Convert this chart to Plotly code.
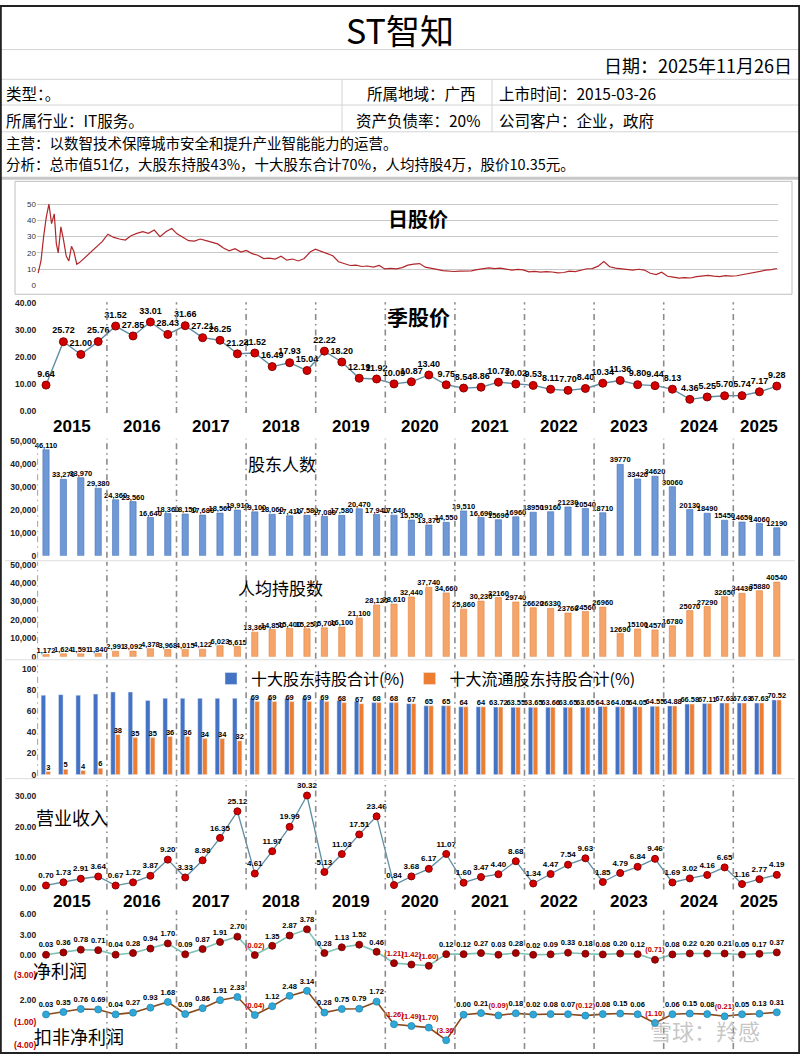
import plotly.graph_objects as go

W, H = 800, 1059
CJK = "Noto Sans CJK SC"
NUMF = "Liberation Sans"
NARROW = "Liberation Sans Narrow, Liberation Sans"

# ---------------- data ----------------
years = [str(y) for y in range(2015, 2026)]

quarter_price = [9.64, 25.72, 21.00, 25.76, 31.52, 27.85, 33.01, 28.43, 31.66, 27.21, 26.25, 21.24,
                 21.52, 16.49, 17.93, 15.04, 22.22, 18.20, 12.19, 11.92, 10.09, 10.87, 13.40, 9.75,
                 8.54, 8.86, 10.73, 10.02, 9.53, 8.11, 7.70, 8.40, 10.34, 11.36, 9.80, 9.44,
                 8.13, 4.36, 5.25, 5.70, 5.74, 7.17, 9.28]

holders = [46110, 33270, 33970, 29380, 24360, 23560, 16640, 18360, 18150, 17680, 18560, 19910,
           19100, 18060, 17410, 17580, 17080, 17580, 20470, 17940, 17640, 15550, 13370, 14550,
           19510, 16690, 15690, 16960, 18950, 19160, 21230, 20540, 18710, 39770, 33420, 34620,
           30060, 20130, 18490, 15450, 14650, 14060, 12190]

per_capita = [1172, 1624, 1591, 1840, 2991, 3092, 4378, 3968, 4015, 4122, 6023, 5615,
              13360, 14850, 15400, 15250, 15700, 16100, 21100, 28120, 28610, 32440, 37740, 34660,
              25860, 30230, 32160, 29740, 26620, 26330, 23760, 24560, 26960, 12690, 15100, 14570,
              16780, 25070, 27290, 32650, 34430, 35880, 40540]

top10_total = [75, 75.5, 75, 76, 78, 78, 70, 72, 72, 72, 72, 72,
               72, 72, 72, 72, 71, 70, 69, 68, 68, 67, 65, 65,
               64, 64, 63.72, 63.55, 63.65, 63.66, 63.65, 63.65, 64.3, 64.05, 64.05, 64.55,
               64.88, 66.58, 67.11, 67.63, 67.63, 67.63, 70.52]
top10_float = [3, 5, 4, 6, 38, 35, 35, 36, 36, 34, 34, 32,
               69, 69, 69, 69, 69, 68, 67, 68, 68, 67, 65, 65,
               64, 64, 63.72, 63.55, 63.65, 63.66, 63.65, 63.65, 64.3, 64.05, 64.05, 64.55,
               64.88, 66.58, 67.11, 67.63, 67.63, 67.63, 70.52]

revenue = [0.70, 1.73, 2.91, 3.64, 0.67, 1.72, 3.87, 9.20, 3.33, 8.98, 16.35, 25.12,
           4.61, 11.97, 19.99, 30.32, 5.13, 11.03, 17.51, 23.46, 0.84, 3.68, 6.17, 11.07,
           1.60, 3.47, 4.40, 8.68, 1.34, 4.47, 7.54, 9.63, 1.85, 4.79, 6.84, 9.46,
           1.69, 3.02, 4.16, 6.65, 1.16, 2.77, 4.19]

net_profit = [0.03, 0.36, 0.78, 0.71, 0.04, 0.28, 0.94, 1.70, 0.09, 0.87, 1.91, 2.70,
              -0.02, 1.35, 2.87, 3.78, 0.28, 1.13, 1.52, 0.46, -1.21, -1.42, -1.60, 0.12,
              0.12, 0.27, 0.03, 0.28, 0.02, 0.09, 0.33, 0.18, 0.08, 0.20, 0.12, -0.71,
              0.08, 0.22, 0.20, 0.21, 0.05, 0.17, 0.37]

deducted_profit = [0.03, 0.35, 0.76, 0.69, 0.04, 0.27, 0.93, 1.68, 0.09, 0.86, 1.91, 2.33,
                   -0.04, 1.12, 2.48, 3.14, 0.28, 0.75, 0.79, 1.72, -1.26, -1.49, -1.70, -3.36,
                   0.00, 0.21, -0.09, 0.18, 0.02, 0.08, 0.07, -0.12, 0.08, 0.15, 0.06, -1.10,
                   0.06, 0.15, 0.08, -0.21, 0.05, 0.13, 0.31]

early_dates = ["2015-03-26", "2015-04-10", "2015-04-24", "2015-05-08", "2015-05-22", "2015-06-05",
               "2015-06-19", "2015-06-30", "2015-07-10", "2015-07-24", "2015-08-07", "2015-08-21",
               "2015-09-04", "2015-09-18", "2015-09-30", "2015-10-16", "2015-10-30"]
early_price = [7.5, 15, 30, 42, 50, 38, 44, 25.7, 20, 36, 28, 18, 15, 24, 21, 13, 14]

# month-end closes Feb 2016 .. Oct 2025, then 2025-11-26
monthly_price = [27, 31.5, 29.5, 28.5, 27.9, 30.5, 32, 33.0, 32, 34, 30,
                 33, 35, 31.7, 29.5, 27.5, 27.2, 28.5, 27.5, 26.3, 25.5, 23, 21.2,
                 22.5, 20.5, 21.5, 19.5, 18.5, 16.5, 16.8, 16.2, 17.9, 15.5, 16.2, 15.0,
                 16.5, 20.5, 22.2, 21, 19.5, 18.2, 14.5, 13.2, 12.2, 12.4, 11.6, 11.9,
                 11.2, 12.2, 10.1, 10.4, 10.1, 10.9, 12.4, 13.1, 13.4, 11.2, 10.3, 9.8,
                 9.1, 8.8, 8.5, 8.7, 9.0, 8.9, 9.7, 10.4, 10.7, 10.3, 10.6, 10.0,
                 9.4, 9.8, 9.5, 8.3, 8.6, 8.1, 8.4, 8.2, 7.7, 7.9, 8.7, 8.4,
                 9.1, 10.2, 10.3, 11.8, 14.6, 11.4, 10.6, 10.1, 9.8, 9.4, 9.9, 9.4,
                 7.4, 6.6, 8.1, 5.6, 5.1, 4.4, 4.7, 4.5, 5.3, 5.9, 6.1, 5.7,
                 5.4, 6.0, 5.7, 5.9, 6.6, 7.2, 7.6, 8.4, 9.3, 9.7, 10.35]

monthly_dates = []
y, m = 2016, 2
while (y, m) <= (2025, 10):
    monthly_dates.append(f"{y}-{m:02d}-28")
    m += 1
    if m > 12:
        y, m = y + 1, 1
monthly_dates.append("2025-11-26")
daily_dates = early_dates + monthly_dates
daily_price = early_price + monthly_price
assert len(daily_dates) == len(daily_price)

q_idx = list(range(len(quarter_price)))

# ---------------- helpers ----------------
def py(p):
    return 1 - p / H


def dom(v0, p0, v1, p1, lo, hi):
    k = (p1 - p0) / (v1 - v0)
    return [py(p0 + (lo - v0) * k), py(p0 + (hi - v0) * k)]


def fmt_neg(v):
    return f"({abs(v):.2f})" if v < 0 else f"{v:.2f}"


RED = "#c00000"
lbl_font = dict(size=8, color="black", family=NARROW, weight="bold")
bar_lbl_font = dict(size=7.5, color="black", family=NARROW, weight="bold")

fig = go.Figure()

# daily price
fig.add_trace(go.Scatter(x=daily_dates, y=daily_price, mode="lines",
                         line=dict(color="#b0262a", width=1.2), xaxis="x", yaxis="y",
                         showlegend=False, hoverinfo="skip"))

# quarterly price
fig.add_trace(go.Scatter(x=q_idx, y=quarter_price, mode="lines+markers+text",
                         text=[f"{v:.2f}" for v in quarter_price], textposition="top center",
                         textfont=dict(size=9, color="black", family=NARROW, weight="bold"),
                         line=dict(color="#5f8ea3", width=1.4),
                         marker=dict(size=8, color="#d40000", line=dict(color="#8b0000", width=1)),
                         xaxis="x2", yaxis="y2", cliponaxis=False, showlegend=False))

# holders
holder_labels = [f"{v:,}" if i < 26 else f"{v}" for i, v in enumerate(holders)]
fig.add_trace(go.Bar(x=q_idx, y=holders, width=0.36,
                     marker=dict(color="#6f98d6", line=dict(color="#4a72b5", width=0.6)),
                     xaxis="x2", yaxis="y3", showlegend=False))
fig.add_trace(go.Scatter(x=q_idx, y=holders, mode="text", text=holder_labels,
                         textposition="top center", textfont=bar_lbl_font,
                         xaxis="x2", yaxis="y3", cliponaxis=False, showlegend=False))

# per capita
pc_labels = [f"{v:,}" if i < 26 else f"{v}" for i, v in enumerate(per_capita)]
fig.add_trace(go.Bar(x=q_idx, y=per_capita, width=0.36,
                     marker=dict(color="#f5a56a", line=dict(color="#e3843f", width=0.6)),
                     xaxis="x2", yaxis="y4", showlegend=False))
fig.add_trace(go.Scatter(x=q_idx, y=per_capita, mode="text", text=pc_labels,
                         textposition="top center", textfont=bar_lbl_font,
                         xaxis="x2", yaxis="y4", cliponaxis=False, showlegend=False))

# top 10 holders
fig.add_trace(go.Bar(x=q_idx, y=top10_total, width=0.26, offset=-0.28, name="十大股东持股合计(%)",
                     marker=dict(color="#4472c4"), xaxis="x2", yaxis="y5", showlegend=True))
fig.add_trace(go.Bar(x=q_idx, y=top10_float, width=0.26, offset=0.0, name="十大流通股东持股合计(%)",
                     marker=dict(color="#ed7d31"), xaxis="x2", yaxis="y5", showlegend=True))
fig.add_trace(go.Scatter(x=[i + 0.13 if i < 12 else i for i in q_idx], y=top10_float, mode="text",
                         text=[f"{v:g}" for v in top10_float], textposition="top center",
                         textfont=bar_lbl_font,
                         xaxis="x2", yaxis="y5", cliponaxis=False, showlegend=False))

# revenue
fig.add_trace(go.Scatter(x=q_idx, y=revenue, mode="lines+markers+text",
                         text=[f"{v:.2f}" for v in revenue], textposition="top center",
                         textfont=lbl_font, line=dict(color="#5f8ea3", width=1.3),
                         marker=dict(size=7, color="#d40000", line=dict(color="#8b0000", width=1)),
                         xaxis="x2", yaxis="y6", cliponaxis=False, showlegend=False))

# net profit
fig.add_trace(go.Scatter(x=q_idx, y=net_profit, mode="lines+markers+text",
                         text=[fmt_neg(v) for v in net_profit], textposition="top center",
                         textfont=dict(size=7.5, family=NARROW, weight="bold",
                                       color=[RED if v < 0 else "black" for v in net_profit]),
                         line=dict(color="#7cc4b6", width=1.6),
                         marker=dict(size=7, color="#a80000", line=dict(color="#700000", width=0.8)),
                         xaxis="x2", yaxis="y7", cliponaxis=False, showlegend=False))

# deducted net profit
fig.add_trace(go.Scatter(x=q_idx, y=deducted_profit, mode="lines+markers+text",
                         text=[fmt_neg(v) for v in deducted_profit], textposition="top center",
                         textfont=dict(size=7.5, family=NARROW, weight="bold",
                                       color=[RED if v < 0 else "black" for v in deducted_profit]),
                         line=dict(color="#8b4a1c", width=1.6),
                         marker=dict(size=7, color="#2fa8d8", line=dict(color="#1f88b8", width=0.8)),
                         xaxis="x2", yaxis="y8", cliponaxis=False, showlegend=False))

# ---------------- axes ----------------
tickf = dict(size=8.5, family=NUMF, color="#222", weight="bold")
ybase = dict(showgrid=False, zeroline=False, showline=False, ticks="", tickfont=tickf, anchor="x2",
             fixedrange=True)

layout = dict(
    width=W, height=H, margin=dict(l=0, r=0, t=0, b=0),
    paper_bgcolor="white", plot_bgcolor="rgba(0,0,0,0)",
    barmode="overlay", hovermode=False,
    xaxis=dict(domain=[37 / W, 778 / W], type="date", range=["2015-03-20", "2025-12-02"],
               visible=False, anchor="y"),
    xaxis2=dict(domain=[37.3 / W, 785.5 / W], range=[-0.5, 42.5], visible=False, anchor="y2"),
    yaxis=dict(domain=dom(0, 283, 50, 201, 0, 56), range=[0, 56], tickvals=[0, 10, 20, 30, 40, 50],
               showgrid=True, gridcolor="#c8c8c8", gridwidth=1, zeroline=False, showline=False,
               ticks="", tickfont=dict(size=8, family=NUMF, color="#333"), anchor="x"),
    yaxis2=dict(ybase, domain=dom(0, 410, 40, 301, 0, 40), range=[0, 40],
                tickvals=[0, 10, 20, 30, 40], tickformat=".2f"),
    yaxis3=dict(ybase, domain=dom(0, 556, 50000, 440, 0, 50000), range=[0, 50000],
                tickvals=[0, 10000, 20000, 30000, 40000, 50000], tickformat=",d"),
    yaxis4=dict(ybase, domain=dom(0, 658, 50000, 565, 0, 50000), range=[0, 50000],
                tickvals=[0, 10000, 20000, 30000, 40000, 50000], tickformat=",d"),
    yaxis5=dict(ybase, domain=dom(0, 777, 100, 670, 0, 100), range=[0, 100],
                tickvals=[0, 20, 40, 60, 80, 100]),
    yaxis6=dict(ybase, domain=dom(0, 891, 30, 799, 0, 31), range=[0, 31],
                tickvals=[0, 10, 20, 30], tickformat=".2f"),
    yaxis7=dict(ybase, domain=dom(0, 959, 6, 918, -3.3, 6.5), range=[-3.3, 6.5],
                tickvals=[-3, 0, 3, 6],
                ticktext=[f'<span style="color:{RED}">(3.00)</span>', "0.00", "3.00", "6.00"]),
    yaxis8=dict(ybase, domain=dom(2, 1004, -1, 1027, -4.2, 4.0), range=[-4.2, 4.0],
                tickvals=[-4, -1, 2],
                ticktext=[f'<span style="color:{RED}">(4.00)</span>',
                          f'<span style="color:{RED}">(1.00)</span>', "2.00"]),
    legend=dict(orientation="h", x=211 / W, y=py(680), xanchor="left", yanchor="middle",
                font=dict(size=16, family=CJK, color="black"), bgcolor="rgba(0,0,0,0)",
                traceorder="normal", itemwidth=30, tracegroupgap=0),
)

# ---------------- shapes ----------------
shapes = []
GRID = "#d4d4d4"


def hline(y, x0=0, x1=W, color=GRID, width=1):
    shapes.append(dict(type="line", xref="paper", yref="paper", x0=x0 / W, x1=x1 / W,
                       y0=py(y), y1=py(y), line=dict(color=color, width=width)))


def vline(x, y0, y1, color=GRID, width=1):
    shapes.append(dict(type="line", xref="paper", yref="paper", x0=x / W, x1=x / W,
                       y0=py(y0), y1=py(y1), line=dict(color=color, width=width)))


for yy in [45, 75, 101, 128]:
    hline(yy)
hline(175, x0=0, x1=W, color="#c8c8c8", width=3)
vline(342, 75, 128)
vline(492, 75, 128)
# daily chart frame
shapes.append(dict(type="rect", xref="paper", yref="paper", x0=15 / W, x1=792 / W,
                   y0=py(292), y1=py(178), line=dict(color="#bfbfbf", width=1)))
for yy in [561, 661, 781]:
    hline(yy, x0=5, x1=795, color="#dedede")

spans = [(300, 412, False), (438, 558, True), (562, 660, True), (666, 778, True),
         (783, 893, False), (914, 981, False), (985, 1054, False)]
for top, bot, left in spans:
    xs = [3.5 + 4 * k for k in range(10)]
    if left:
        xs = [-0.5] + xs
    for xv in xs:
        shapes.append(dict(type="line", xref="x2", yref="paper", x0=xv, x1=xv,
                           y0=py(bot), y1=py(top),
                           line=dict(color="#8c8c8c", width=1.6, dash="6px,4px,1.5px,4px")))

# outer frame
shapes.append(dict(type="rect", xref="paper", yref="paper", x0=0.001, x1=0.999, y0=0.001, y1=0.999,
                   line=dict(color="#222", width=2)))

# ---------------- annotations ----------------
anns = []


def ann(text, x, y, size, xanchor="center", color="black", family=CJK, xref="paper"):
    anns.append(dict(text=text, x=(x / W if xref == "paper" else x), y=py(y), xref=xref, yref="paper",
                     xanchor=xanchor, yanchor="middle", showarrow=False,
                     font=dict(size=size, color=color, family=family)))


ann("ST智知", 400, 25, 34)
ann("日期：2025年11月26日", 794, 61, 18, xanchor="right")
ann("类型：。", 4, 89, 15.5, xanchor="left")
ann("所属地域：广西", 478, 89, 15.5, xanchor="right")
ann("上市时间：2015-03-26", 497, 89, 15.5, xanchor="left")
ann("所属行业：IT服务。", 4, 116, 15.5, xanchor="left")
ann("资产负债率：20%", 482, 116, 15.5, xanchor="right")
ann("公司客户：企业，政府", 497, 116, 15.5, xanchor="left")
ann("主营：以数智技术保障城市安全和提升产业智能能力的运营。", 4, 139, 14.5, xanchor="left")
ann("分析：总市值51亿，大股东持股43%，十大股东合计70%，人均持股4万，股价10.35元。", 4, 160, 14.5,
    xanchor="left")

ann("<b>日股价</b>", 418, 216, 20)
ann("<b>季股价</b>", 418, 314, 21)
ann("股东人数", 282, 463, 17)
ann("人均持股数", 280, 588, 17)
ann("营业收入", 72, 820, 18)
ann("净利润", 60, 974, 18)
ann("扣非净利润", 79, 1041, 18)

for k, yr in enumerate(years):
    xc = 4 * k + 1.5 if k < 10 else 41
    ann(f"<b>{yr}</b>", xc, 426, 17, family=NUMF, xref="x2")
    ann(f"<b>{yr}</b>", xc, 905, 17, family=NUMF, xref="x2")

ann("雪球：羚感", 705, 1035, 22, color="rgba(150,150,150,0.55)")

layout["shapes"] = shapes
layout["annotations"] = anns
fig.update_layout(**layout)

fig.write_html("out.html", config={"displayModeBar": False},
               post_script="document.body.style.margin='0';document.body.style.padding='0';"
                           "document.body.style.overflow='hidden';")
